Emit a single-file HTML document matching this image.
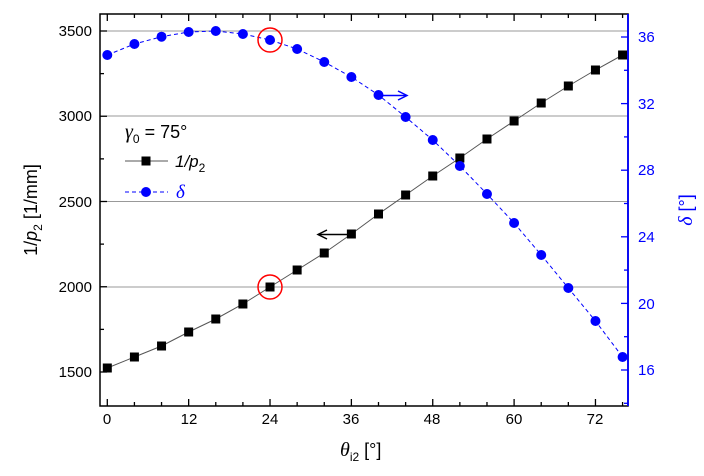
<!DOCTYPE html><html><head><style>body{margin:0;background:#fff}svg{display:block;font-family:"Liberation Sans",sans-serif}</style></head><body>
<svg width="704" height="476" viewBox="0 0 704 476" xmlns="http://www.w3.org/2000/svg">
<g stroke="#999" stroke-width="1"><line x1="100" x2="628" y1="31" y2="31"/><line x1="100" x2="628" y1="116" y2="116"/><line x1="100" x2="628" y1="201.5" y2="201.5"/><line x1="100" x2="628" y1="287" y2="287"/></g>
<g id="ticks" stroke="#000" stroke-width="1.3"></g>
<polyline id="bl" fill="none" stroke="#555" stroke-width="1"/>
<polyline id="dl" fill="none" stroke="#0000ff" stroke-width="1" stroke-dasharray="4,3"/>
<g id="pts"></g>
<rect x="100" y="14" width="528" height="392" fill="none" stroke="#000" stroke-width="1.5"/>
<line x1="628" y1="14" x2="628" y2="406" stroke="#0000ff" stroke-width="1.8"/>
<circle cx="270" cy="40" r="12" fill="none" stroke="#f00" stroke-width="1.5"/>
<circle cx="270" cy="287" r="12" fill="none" stroke="#f00" stroke-width="1.5"/>
<g stroke="#00f" stroke-width="1.5" fill="none"><line x1="380" y1="95.5" x2="406" y2="95.5"/><polyline points="398,91 407,95.5 398,100"/></g>
<g stroke="#000" stroke-width="1.5" fill="none"><line x1="350" y1="234.5" x2="318" y2="234.5"/><polyline points="327,230 318,234.5 327,239"/></g>
<g font-size="15" text-anchor="end" fill="#000"><text x="92" y="36">3500</text><text x="92" y="121">3000</text><text x="92" y="207">2500</text><text x="92" y="292">2000</text><text x="92" y="377">1500</text></g>
<g font-size="15" fill="#00f"><text x="638" y="42">36</text><text x="638" y="109">32</text><text x="638" y="175">28</text><text x="638" y="242">24</text><text x="638" y="309">20</text><text x="638" y="375">16</text></g>
<g font-size="15" text-anchor="middle"><text x="107" y="424">0</text><text x="189" y="424">12</text><text x="270" y="424">24</text><text x="351" y="424">36</text><text x="432" y="424">48</text><text x="514" y="424">60</text><text x="595" y="424">72</text></g>
<text x="340" y="456" font-size="18"><tspan font-family="Liberation Serif" font-style="italic" font-size="20">θ</tspan><tspan font-size="12" dy="5">i2</tspan><tspan dy="-5"> [°]</tspan></text>
<text transform="translate(37,210) rotate(-90)" text-anchor="middle" font-size="18">1/<tspan font-style="italic">p</tspan><tspan font-size="12" dy="5">2</tspan><tspan dy="-5"> [1/mm]</tspan></text>
<text transform="translate(692,210) rotate(-90)" text-anchor="middle" font-size="18" fill="#00f"><tspan font-family="Liberation Serif" font-style="italic" font-size="20">δ</tspan> [°]</text>
<text x="125" y="138" font-size="18"><tspan font-family="Liberation Serif" font-style="italic" font-size="20">γ</tspan><tspan font-size="12" dy="5">0</tspan><tspan dy="-5"> = 75°</tspan></text>
<line x1="125" y1="161" x2="168" y2="161" stroke="#555"/><rect x="141.5" y="156.5" width="9" height="9"/>
<text x="175" y="167" font-size="17" font-style="italic">1/p<tspan font-size="12" dy="5" font-style="normal">2</tspan></text>
<line x1="125" y1="192" x2="168" y2="192" stroke="#00f" stroke-dasharray="4,3"/><circle cx="146" cy="192" r="5" fill="#00f"/>
<text x="176" y="198" font-size="19" font-family="Liberation Serif" font-style="italic" fill="#00f">δ</text>
</svg>
<script>
var ns="http://www.w3.org/2000/svg";
var by=[368,357,346,332,319,304,287,270,253,234,214,195,176,158,139,121,103,86,70,55];
var dy=[55,44,36.7,32,31,34,40,49,62,77,95,117,140,166,194,223,255,288,321,357];
var bp=[],dp=[],g=document.getElementById("pts");
for(var i=0;i<20;i++){var x=107.3+6.78*4*i;bp.push(x+","+by[i]);dp.push(x+","+dy[i]);
var r=document.createElementNS(ns,"rect");r.setAttribute("x",x-4.5);r.setAttribute("y",by[i]-4.5);r.setAttribute("width",9);r.setAttribute("height",9);g.appendChild(r);
var c=document.createElementNS(ns,"circle");c.setAttribute("cx",x);c.setAttribute("cy",dy[i]);c.setAttribute("r",5);c.setAttribute("fill","#00f");g.appendChild(c);}
document.getElementById("bl").setAttribute("points",bp.join(" "));
document.getElementById("dl").setAttribute("points",dp.join(" "));
var t=document.getElementById("ticks");
function L(x1,y1,x2,y2,col){var l=document.createElementNS(ns,"line");l.setAttribute("x1",x1);l.setAttribute("y1",y1);l.setAttribute("x2",x2);l.setAttribute("y2",y2);if(col)l.setAttribute("stroke",col);t.appendChild(l);}
for(var v=0;v<=76;v+=4){var x=107.3+6.78*v,len=(v%12==0)?7:4;L(x,406,x,406-len);L(x,14,x,14+len);}
for(var v=1250;v<=3600;v+=250){var y=31+(3500-v)*0.1705;if(y<14||y>406)continue;var len=(v%500==0)?7:4;L(100,y,100+len,y);}
for(var v=14;v<=37;v+=2){var y=37+(36-v)*16.65;if(y<14||y>406)continue;var len=(v%4==0)?7:4;L(628,y,628-len,y,"#00f");}
</script>
</body></html>
